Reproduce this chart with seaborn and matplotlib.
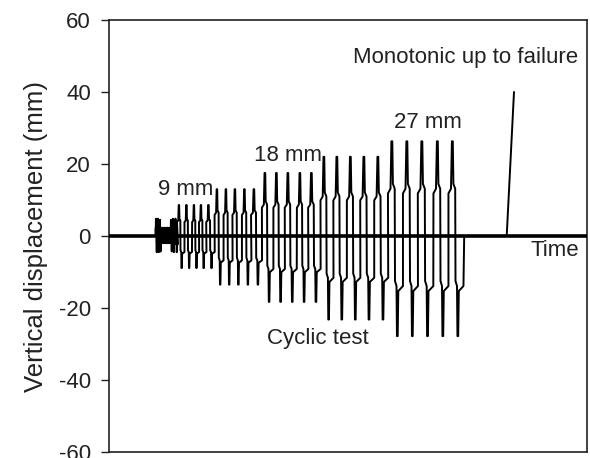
import numpy as np
import pandas as pd
import seaborn as sns
import matplotlib.pyplot as plt

# peak time of each loading cycle (arbitrary time units) and its peak values (mm)
peak_time = [46, 48, 50, 51.5, 53, 54.5, 56, 57.5, 59, 61, 63, 65.5,
             69, 76.5, 84, 91, 98.5,
             107, 116, 125, 134.5, 144,
             155, 166.5, 178, 190, 201.5,
             214, 227, 240.5, 254, 268,
             282, 297, 312, 327.5, 342.5]
peak_up = [4.8, 4.8, 4.5, 2.3, 2.3, 2.3, 2.3, 2.3, 2.3, 4.5, 4.8, 4.8,
           8.6, 8.6, 8.6, 8.6, 8.6,
           13.0, 13.0, 13.0, 13.0, 13.0,
           17.5, 17.5, 17.5, 17.5, 17.5,
           22.0, 22.0, 22.0, 22.0, 22.0,
           26.3, 26.3, 26.3, 26.3, 26.3]
peak_down = [-4.5, -4.5, -4.3, -2.0, -2.0, -2.0, -2.0, -2.0, -2.0, -4.3, -4.5, -4.5,
             -8.9, -8.9, -8.9, -8.9, -8.9,
             -13.5, -13.5, -13.5, -13.5, -13.5,
             -18.3, -18.3, -18.3, -18.3, -18.3,
             -23.2, -23.2, -23.2, -23.2, -23.2,
             -27.8, -27.8, -27.8, -27.8, -27.8]

# monotonic test: start and end point
mono_time = [396.7, 404]
mono_disp = [0, 40]

# shape of one cycle: (time offset as fraction of period, fraction of peak, half)
# the steps come from the holds between load stages
cycle_shape = [(-0.27, 0.45, 'up'), (-0.10, 0.5, 'up'), (-0.04, 1.0, 'up'),
               (0.02, 1.0, 'up'), (0.06, 0.55, 'up'), (0.18, 0.5, 'up'),
               (0.20, 0.45, 'down'), (0.30, 0.5, 'down'), (0.33, 1.0, 'down'),
               (0.38, 1.0, 'down'), (0.42, 0.55, 'down'), (0.73, 0.5, 'down')]

tt = [0.0]
yy = [0.0]
for i in range(len(peak_time)):
    if i + 1 < len(peak_time):
        per = peak_time[i + 1] - peak_time[i]
    else:
        per = peak_time[i] - peak_time[i - 1]
    if i == 0:
        tt.append(peak_time[0] - 0.27 * per)
        yy.append(0.0)
    for f, a, half in cycle_shape:
        tt.append(peak_time[i] + f * per)
        yy.append(a * (peak_up[i] if half == 'up' else peak_down[i]))
    if i == len(peak_time) - 1:
        tt.append(peak_time[i] + 0.78 * per)
        yy.append(0.0)
tt += mono_time
yy += mono_disp

df = pd.DataFrame({'time': tt, 'disp': yy})

sns.set_theme(style='white')
plt.rcParams['font.family'] = ['Liberation Sans', 'DejaVu Sans']
plt.rcParams['axes.unicode_minus'] = False

fig = plt.figure(figsize=(5.9, 4.58), dpi=100)
ax = fig.add_axes([109 / 590, 6 / 458, 478 / 590, 432 / 458])

ax.axhline(0, color='black', lw=2.6, zorder=3)
sns.lineplot(data=df, x='time', y='disp', sort=False, estimator=None,
             color='black', lw=1.4, ax=ax, zorder=4)

ax.set_xlim(-1, 477)
ax.set_ylim(-60, 60)
ax.set_yticks([-60, -40, -20, 0, 20, 40, 60])
ax.set_xticks([])
ax.set_xlabel('')
ax.set_ylabel('Vertical displacement (mm)', fontsize=18.5, color='#222222')
ax.yaxis.set_label_coords(-0.128, 0.5)
ax.tick_params(axis='y', direction='out', length=6, width=1, color='#222222',
               labelsize=16, labelcolor='#222222', left=True, pad=7)
for s in ax.spines.values():
    s.set_color('#222222')
    s.set_linewidth(1.2)

ax.text(75.5, 13.0, '9 mm', fontsize=16, ha='center', va='center', color='#222222')
ax.text(178.5, 22.3, '18 mm', fontsize=16, ha='center', va='center', color='#222222')
ax.text(317.5, 31.5, '27 mm', fontsize=16, ha='center', va='center', color='#222222')
ax.text(468.5, 49.6, 'Monotonic up to failure', fontsize=16, ha='right', va='center', color='#222222')
ax.text(207.5, -28.5, 'Cyclic test', fontsize=16, ha='center', va='center', color='#222222')
ax.text(445, -3.9, 'Time', fontsize=16, ha='center', va='center', color='#222222')

fig.savefig('out.png', dpi=100)
